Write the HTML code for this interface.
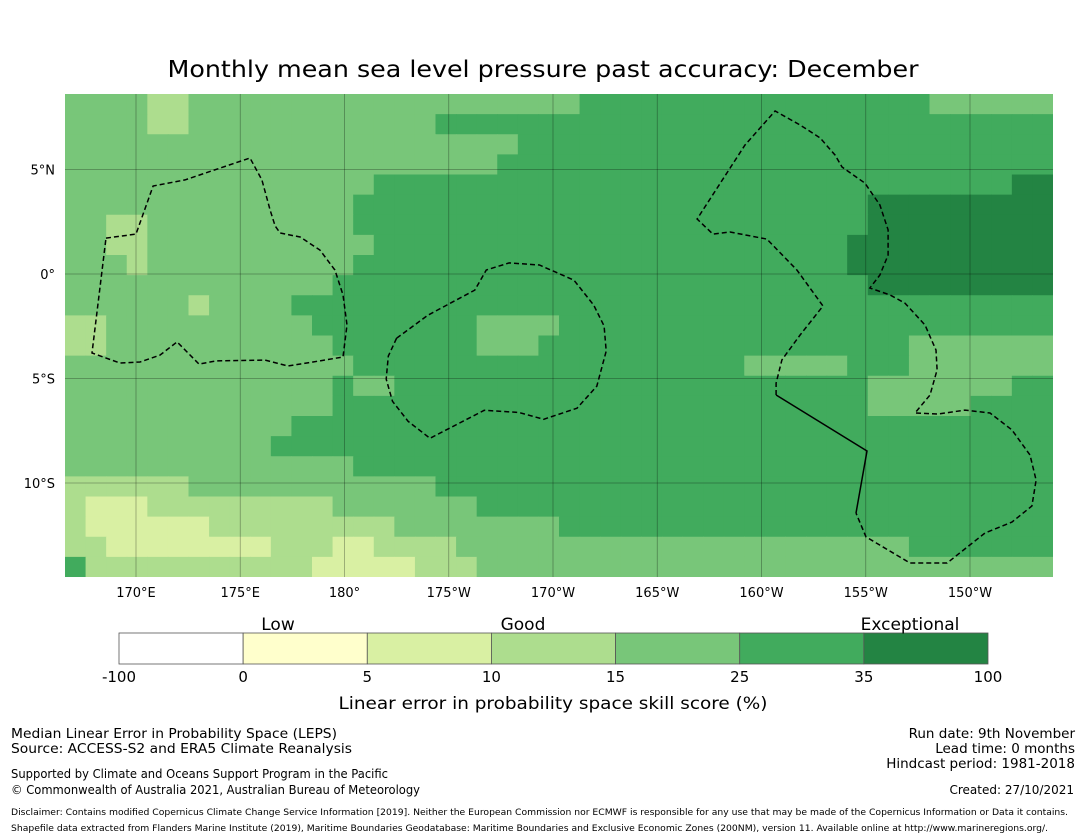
<!DOCTYPE html>
<html><head><meta charset="utf-8"><style>
html,body{margin:0;padding:0;background:#fff;}
svg{display:block;font-family:"DejaVu Sans","Liberation Sans",sans-serif;}
</style></head><body>
<svg id="chart" width="1085" height="839" viewBox="0 0 1085 839" xmlns="http://www.w3.org/2000/svg">
<text x="543" y="77" font-size="23" text-anchor="middle" fill="#000" textLength="751" lengthAdjust="spacingAndGlyphs">Monthly mean sea level pressure past accuracy: December</text>
<g id="cells"></g>
<g id="grid"></g>
<g id="bounds"></g>
<g id="axes"></g>
<g id="cbar"></g>
<text x="278" y="630" font-size="17" text-anchor="middle">Low</text>
<text x="523" y="630" font-size="17" text-anchor="middle">Good</text>
<text x="910" y="630" font-size="17" text-anchor="middle">Exceptional</text>
<text x="553" y="709" font-size="17" text-anchor="middle" textLength="429" lengthAdjust="spacingAndGlyphs">Linear error in probability space skill score (%)</text>
<g font-size="13.5" fill="#000">
<text x="11" y="738" textLength="326" lengthAdjust="spacingAndGlyphs">Median Linear Error in Probability Space (LEPS)</text>
<text x="11" y="753" textLength="341" lengthAdjust="spacingAndGlyphs">Source: ACCESS-S2 and ERA5 Climate Reanalysis</text>
<text x="11" y="778" font-size="12" textLength="377" lengthAdjust="spacingAndGlyphs">Supported by Climate and Oceans Support Program in the Pacific</text>
<text x="11" y="794" font-size="12" textLength="409" lengthAdjust="spacingAndGlyphs">© Commonwealth of Australia 2021, Australian Bureau of Meteorology</text>
<text x="1075" y="738" text-anchor="end">Run date: 9th November</text>
<text x="1075" y="753" text-anchor="end">Lead time: 0 months</text>
<text x="1075" y="768" text-anchor="end">Hindcast period: 1981-2018</text>
<text x="1074" y="794" font-size="12" text-anchor="end">Created: 27/10/2021</text>
<text x="11" y="815" font-size="9" textLength="1057" lengthAdjust="spacingAndGlyphs">Disclaimer: Contains modified Copernicus Climate Change Service Information [2019]. Neither the European Commission nor ECMWF is responsible for any use that may be made of the Copernicus Information or Data it contains.</text>
<text x="11" y="831" font-size="9" textLength="1037" lengthAdjust="spacingAndGlyphs">Shapefile data extracted from Flanders Marine Institute (2019), Maritime Boundaries Geodatabase: Maritime Boundaries and Exclusive Economic Zones (200NM), version 11. Available online at http://www.marineregions.org/.</text>
</g>
</svg>
<script>
// category palette index: 0 white,1 #ffffcc,2 #d9f0a3,3 #addd8e,4 #78c679,5 #41ab5d,6 #238443
const palette = ["#ffffff","#ffffcc","#d9f0a3","#addd8e","#78c679","#41ab5d","#238443"];
const binEdges = ["-100","0","5","10","15","25","35","100"];
const lonTicks = [170,175,180,185,190,195,200,205,210];
const lonLabels = ["170°E","175°E","180°","175°W","170°W","165°W","160°W","155°W","150°W"];
const latTicks = [5,0,-5,-10];
const latLabels = ["5°N","0°","5°S","10°S"];
// grid of skill categories, 1 row per ~1° latitude (north to south), 48 columns west to east
const skillRows = [
"444433444444444444444444455555555555555555444444",
"444433444444444444555555555555555555555555555555",
"444444444444444444444455555555555555555555555555",
"444444444444444444444555555555555555555555555555",
"444444444444444555555555555555555555555555555566",
"444444444444445555555555555555555555555666666666",
"443344444444445555555555555555555555555666666666",
"443344444444444555555555555555555555556666666666",
"444344444444445555555555555555555555556666666666",
"444444444444455555555555555555555555555666666666",
"444444344445555555555555555555555555555555555555",
"334444444444555555554444555555555555555555555555",
"334444444444455555554445555555555555555554444444",
"444444444444445555555555555555555444445554444444",
"444444444444454455555555555555555555555444444455",
"444444444444455555555555555555555555555444445555",
"444444444445555555555555555555555555555555555555",
"444444444455555555555555555555555555555555555555",
"444444444444445555555555555555555555555555555555",
"333333444444444444555555555555555555555555555555",
"322233333333344444445555555555555555555555555555",
"322222233333333344444444555555555555555555555555",
"332222222233322333344444444444444444444445555555",
"533333333333222223334444444444444444444444444444"
];
// boundary polylines in lon(0-360)/lat
const eezA = [[168.56,1.72],[170.0,1.91],[170.82,4.21],[172.35,4.50],[175.47,5.55],[176.04,4.50],[176.43,3.06],[176.67,2.30],[176.91,1.96],[177.87,1.77],[178.82,1.15],[179.54,0.19],[179.93,-1.00],[180.12,-2.44],[179.93,-3.97],[178.49,-4.21],[177.29,-4.40],[176.19,-4.12],[173.84,-4.16],[173.02,-4.31],[171.97,-3.25],[171.15,-3.88],[170.19,-4.21],[169.23,-4.26],[167.89,-3.78],[168.56,1.72]];
const eezB = [[182.5,-3.07],[184.0,-1.97],[186.25,-0.77],[186.8,0.19],[187.9,0.53],[189.35,0.43],[191.0,-0.29],[191.95,-1.49],[192.45,-2.49],[192.55,-3.69],[192.1,-5.37],[191.15,-6.42],[189.55,-6.95],[188.35,-6.62],[186.7,-6.52],[184.1,-7.86],[183.05,-7.05],[182.3,-6.09],[182.0,-5.03],[182.1,-3.93],[182.5,-3.07]];
const eezC = [[200.70,-5.79],[200.70,-5.22],[200.98,-4.11],[201.85,-2.92],[202.95,-1.53],[201.70,0.19],[200.26,1.67],[198.49,2.01],[197.67,1.91],[196.91,2.63],[199.21,6.17],[200.65,7.80],[201.85,7.13],[202.81,6.51],[203.53,5.69],[203.86,5.12],[204.96,4.35],[205.68,3.30],[206.07,2.11],[206.07,0.91],[205.68,-0.05],[205.20,-0.67],[206.16,-1.00],[206.88,-1.39],[207.84,-2.44],[208.37,-3.64],[208.42,-4.59],[208.08,-5.79],[207.36,-6.65],[208.47,-6.70],[209.76,-6.51],[210.96,-6.65],[212.01,-7.46],[212.88,-8.66],[213.17,-9.86],[212.97,-11.10],[212.01,-11.87],[210.72,-12.39],[208.90,-13.83],[207.12,-13.83],[205.01,-12.58],[204.53,-11.44]];
const eezCsolid = [[204.53,-11.44],[205.06,-8.47],[200.70,-5.79]];

const X0=136, X1=970, L0=170, L1=210, Y0=274, Y1=483, A0=0, A1=-10;
const xOf = lon => X0 + (lon-L0)*(X1-X0)/(L1-L0);
const yOf = lat => Y0 + (lat-A0)*(Y1-Y0)/(A1-A0);
const NS="http://www.w3.org/2000/svg";
const MX=65, MY=94, MW=988, MH=483;

const cells=document.getElementById('cells');
const nr=skillRows.length, nc=skillRows[0].length, cw=MW/nc, ch=MH/nr;
skillRows.forEach((row,r)=>{
  for(let c=0;c<nc;c++){
    const rect=document.createElementNS(NS,'rect');
    rect.setAttribute('x',(MX+c*cw).toFixed(2));
    rect.setAttribute('y',(MY+r*ch).toFixed(2));
    rect.setAttribute('width',Math.min(cw+0.6, MX+MW-(MX+c*cw)).toFixed(2));
    rect.setAttribute('height',Math.min(ch+0.6, MY+MH-(MY+r*ch)).toFixed(2));
    rect.setAttribute('fill',palette[+row[c]]);
    
    
    cells.appendChild(rect);
  }
});

const grid=document.getElementById('grid'), axes=document.getElementById('axes');
lonTicks.forEach((lon,i)=>{
  const x=xOf(lon);
  const l=document.createElementNS(NS,'line');
  l.setAttribute('x1',x);l.setAttribute('x2',x);l.setAttribute('y1',MY);l.setAttribute('y2',MY+MH);
  l.setAttribute('stroke','rgba(0,0,0,0.35)');l.setAttribute('stroke-width','0.8');
  
  
  grid.appendChild(l);
  const t=document.createElementNS(NS,'text');
  t.setAttribute('x',x);t.setAttribute('y',597);t.setAttribute('font-size','13');t.setAttribute('text-anchor','middle');
  t.textContent=lonLabels[i];
  
  
  axes.appendChild(t);
});
latTicks.forEach((lat,i)=>{
  const y=yOf(lat);
  const l=document.createElementNS(NS,'line');
  l.setAttribute('x1',MX);l.setAttribute('x2',MX+MW);l.setAttribute('y1',y);l.setAttribute('y2',y);
  l.setAttribute('stroke','rgba(0,0,0,0.35)');l.setAttribute('stroke-width','0.8');
  
  
  grid.appendChild(l);
  const t=document.createElementNS(NS,'text');
  t.setAttribute('x',55);t.setAttribute('y',y+5);t.setAttribute('font-size','13');t.setAttribute('text-anchor','end');
  t.textContent=latLabels[i];
  
  
  axes.appendChild(t);
});

const bounds=document.getElementById('bounds');
function poly(pts,dashed,name){
  const p=document.createElementNS(NS,'polyline');
  p.setAttribute('points',pts.map(q=>xOf(q[0]).toFixed(1)+','+yOf(q[1]).toFixed(1)).join(' '));
  p.setAttribute('fill','none');p.setAttribute('stroke','#000');p.setAttribute('stroke-width','1.5');
  if(dashed)p.setAttribute('stroke-dasharray','5,3');
  
  
  bounds.appendChild(p);
}
poly(eezA,true,'eez-boundary-west');
poly(eezB,true,'eez-boundary-central');
poly(eezC,true,'eez-boundary-east');
poly(eezCsolid,false,'eez-boundary-solid');

const cbar=document.getElementById('cbar');
const CX=119, CW=869, CY=633, CH=31, seg=CW/(palette.length);
palette.forEach((col,i)=>{
  const r=document.createElementNS(NS,'rect');
  r.setAttribute('x',CX+i*seg);r.setAttribute('y',CY);r.setAttribute('width',seg);r.setAttribute('height',CH);
  r.setAttribute('fill',col);r.setAttribute('stroke','#555');r.setAttribute('stroke-width','0.8');
  
  
  cbar.appendChild(r);
});
binEdges.forEach((lab,i)=>{
  const t=document.createElementNS(NS,'text');
  t.setAttribute('x',CX+i*seg);t.setAttribute('y',682);t.setAttribute('font-size','15');t.setAttribute('text-anchor','middle');
  t.textContent=lab;
  
  
  cbar.appendChild(t);
});
</script>
</body></html>
